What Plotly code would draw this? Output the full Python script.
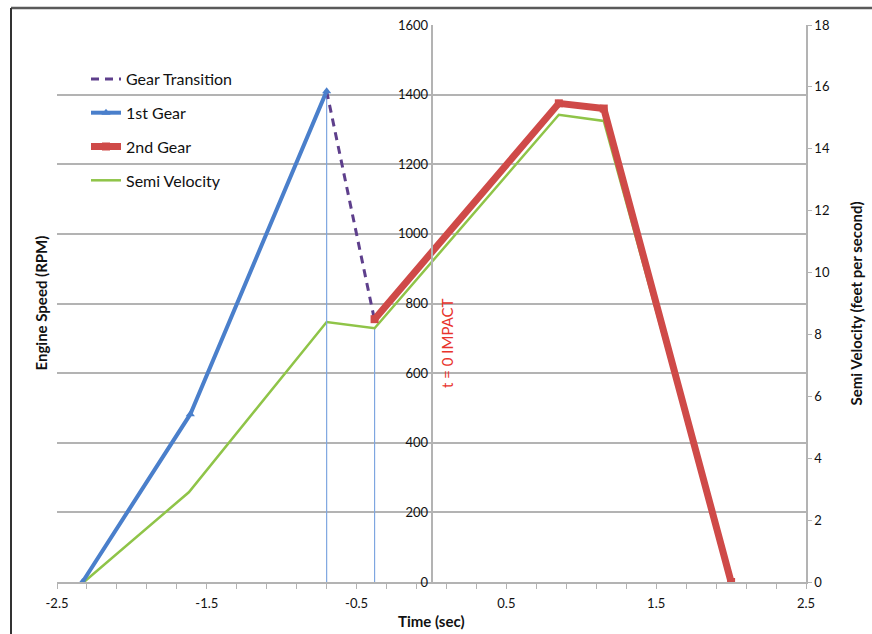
import plotly.graph_objects as go

# ---- data ----
gear1_t = [-2.33, -1.61, -0.70]
gear1_rpm = [0, 482, 1410]

trans_t = [-0.70, -0.38]
trans_rpm = [1410, 752]

gear2_t = [-0.38, 0.85, 1.15, 2.0]
gear2_rpm = [755, 1375, 1360, 0]

semi_t = [-2.32, -1.62, -0.70, -0.38, 0.85, 1.15, 2.0]
semi_v = [0, 2.9, 8.4, 8.2, 15.1, 14.9, 0]

drop_t = [-0.70, -0.38]

x_ticks = [-2.5, -1.5, -0.5, 0.5, 1.5, 2.5]

FONT = "Lato"
GRID = "#b3b3b3"
BLUE = "#4a7fcb"
RED = "#cf4a48"
GREEN = "#8fc448"
PURPLE = "#5e3f8c"
DROP = "#7ea6e0"
TXT = "#111111"

# plot area geometry in pixels (used for paper conversions of decorations)
W, H = 872, 634
L, R, T, B = 57, 806, 25, 582


def px_x(p):
    return (p - L) / (R - L)


def px_y(p):
    return (B - p) / (B - T)


fig = go.Figure()

# drop lines
fig.add_trace(go.Scatter(x=[drop_t[0], drop_t[0]], y=[0, gear1_rpm[-1]], yaxis="y2",
                         mode="lines", line=dict(color=DROP, width=1.2),
                         showlegend=False, hoverinfo="skip"))
fig.add_trace(go.Scatter(x=[drop_t[1], drop_t[1]], y=[0, semi_v[3]], yaxis="y",
                         mode="lines", line=dict(color=DROP, width=1.2),
                         showlegend=False, hoverinfo="skip"))

fig.add_trace(go.Scatter(x=semi_t, y=semi_v, yaxis="y", name="Semi Velocity",
                         mode="lines", line=dict(color=GREEN, width=2.5),
                         legendrank=4, legendgroup="d"))
fig.add_trace(go.Scatter(x=trans_t, y=trans_rpm, yaxis="y2", name="Gear Transition",
                         mode="lines", line=dict(color=PURPLE, width=3, dash="8px,6px"),
                         legendrank=1, legendgroup="a"))
fig.add_trace(go.Scatter(x=gear1_t, y=gear1_rpm, yaxis="y2", name="1st Gear",
                         mode="lines+markers", line=dict(color=BLUE, width=4),
                         marker=dict(symbol="triangle-up", size=8, color=BLUE),
                         legendrank=2, legendgroup="b"))
fig.add_trace(go.Scatter(x=gear2_t, y=gear2_rpm, yaxis="y2", name="2nd Gear",
                         mode="lines+markers", line=dict(color=RED, width=7),
                         marker=dict(symbol="square", size=8, color=RED),
                         legendrank=3, legendgroup="c"))

fig.update_layout(
    width=W, height=H,
    margin=dict(l=L, r=W - R, t=T, b=H - B),
    paper_bgcolor="white", plot_bgcolor="white",
    font=dict(family=FONT, size=13, color=TXT),
    showlegend=True,
    legend=dict(x=px_x(86), y=px_y(62), xanchor="left", yanchor="top",
                bgcolor="rgba(0,0,0,0)", font=dict(size=16, color=TXT),
                tracegroupgap=10, traceorder="grouped", itemwidth=30),
    xaxis=dict(range=[-2.5, 2.5], tickvals=x_ticks, ticktext=[str(v) for v in x_ticks],
               showgrid=False, zeroline=False, showline=True, linecolor=GRID, linewidth=1.5,
               ticks="outside", ticklen=5, tickcolor=GRID, ticklabelstandoff=4,
               minor=dict(dtick=0.2, tick0=-2.5, ticks="outside", ticklen=5, tickcolor=GRID),
               tickfont=dict(size=13, color=TXT)),
    yaxis=dict(range=[0, 18], dtick=2, side="right", showgrid=False, zeroline=False,
               showline=True, linecolor=GRID, linewidth=1.5,
               ticks="outside", ticklen=4, tickcolor=GRID,
               tickfont=dict(size=13, color=TXT)),
    yaxis2=dict(range=[0, 1600], dtick=200, overlaying="y", anchor="free", position=px_x(431.5),
                side="left", showgrid=True, gridcolor=GRID, gridwidth=1.5, zeroline=False,
                showline=True, linecolor=GRID, linewidth=1.5, ticks="",
                tickfont=dict(size=13, color=TXT)),
)

fig.add_annotation(text="<b>Engine Speed (RPM)</b>", xref="paper", yref="paper",
                   x=px_x(40), y=0.5, xanchor="center", yanchor="middle",
                   textangle=-90, showarrow=False, font=dict(size=15, color=TXT))
fig.add_annotation(text="<b>Semi Velocity (feet per second)</b>", xref="paper", yref="paper",
                   x=px_x(855), y=0.5, xanchor="center", yanchor="middle",
                   textangle=-90, showarrow=False, font=dict(size=15, color=TXT))
fig.add_annotation(text="<b>Time (sec)</b>", xref="paper", yref="paper",
                   x=0.5, y=px_y(621), xanchor="center", yanchor="middle",
                   showarrow=False, font=dict(size=15, color=TXT))
fig.add_annotation(text="t = 0 IMPACT", xref="paper", yref="paper",
                   x=px_x(447), y=px_y(343), xanchor="center", yanchor="middle",
                   textangle=-90, showarrow=False, font=dict(size=15, color="#e8332c"))

# outer frame (top and left edges)
fig.add_shape(type="line", xref="paper", yref="paper", x0=px_x(11), x1=px_x(872),
              y0=px_y(8), y1=px_y(8), line=dict(color="#5a5a5a", width=2.5))
fig.add_shape(type="line", xref="paper", yref="paper", x0=px_x(11), x1=px_x(11),
              y0=px_y(8), y1=px_y(634), line=dict(color="#333333", width=2))

fig.write_html("out.html")
